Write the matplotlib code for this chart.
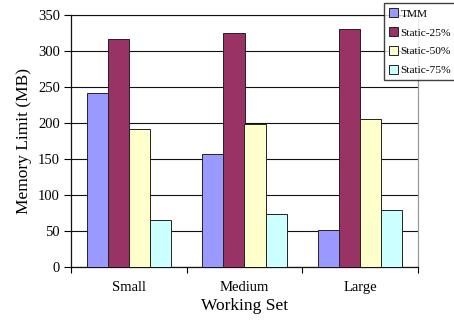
import matplotlib
matplotlib.use("Agg")
import matplotlib.pyplot as plt
import numpy as np

categories = ["Small", "Medium", "Large"]
series_names = ["TMM", "Static-25%", "Static-50%", "Static-75%"]
tmm = [242, 157, 52]
static_25 = [316, 324, 330]
static_50 = [191, 199, 205]
static_75 = [65, 73, 79]
colors = ["#9999FF", "#993366", "#FFFFCC", "#CCFFFF"]
y_ticks = [0, 50, 100, 150, 200, 250, 300, 350]

plt.rcParams["font.family"] = ["Liberation Serif", "DejaVu Serif"]

fig = plt.figure(figsize=(4.54, 3.21), dpi=100)
ax = fig.add_axes([71 / 454, 1 - 267 / 321, (418 - 71) / 454, (267 - 14.7) / 321])

x = np.arange(len(categories))
bar_w = 0.182
series = [tmm, static_25, static_50, static_75]
for i, (name, vals, c) in enumerate(zip(series_names, series, colors)):
    ax.bar(x + (i - 1.5) * bar_w, vals, bar_w, color=c, edgecolor="#222222",
           linewidth=0.7, label=name, zorder=3)

ax.set_xlim(-0.5, 2.5)
ax.set_ylim(0, 350)
ax.set_yticks(y_ticks)
ax.set_yticklabels([str(v) for v in y_ticks], fontsize=10.5)
ax.yaxis.grid(True, color="#111111", linewidth=0.8, zorder=0)
ax.set_axisbelow(True)

ax.set_xticks([-0.5, 0.5, 1.5, 2.5])
ax.set_xticklabels([])
ax.set_xticks(x, minor=True)
ax.set_xticklabels(categories, minor=True, fontsize=10.5)
ax.tick_params(axis="x", which="minor", length=0, pad=10)
ax.tick_params(axis="x", which="major", length=4, direction="out", width=0.8)
ax.tick_params(axis="y", length=5, direction="out", width=0.8, pad=3)

for s in ["left", "bottom"]:
    ax.spines[s].set_color("#111111")
    ax.spines[s].set_linewidth(0.9)
ax.spines["top"].set_color("#111111")
ax.spines["top"].set_linewidth(0.8)
ax.spines["right"].set_color("#999999")
ax.spines["right"].set_linewidth(0.9)

ax.set_ylabel("Memory Limit (MB)", fontsize=12.5, labelpad=4)
ax.set_xlabel("Working Set", fontsize=12.5, labelpad=3)

leg = fig.legend(loc="upper left", bbox_to_anchor=(384 / 454, 1 - 3.3 / 321),
                 fontsize=8.2, frameon=True, fancybox=False, shadow=False,
                 handlelength=0.8, handleheight=0.8, handletextpad=0.2,
                 labelspacing=0.75, borderpad=0.45, borderaxespad=0)
leg.get_frame().set_edgecolor("#111111")
leg.get_frame().set_linewidth(1.0)

fig.savefig("out.png", dpi=100)
